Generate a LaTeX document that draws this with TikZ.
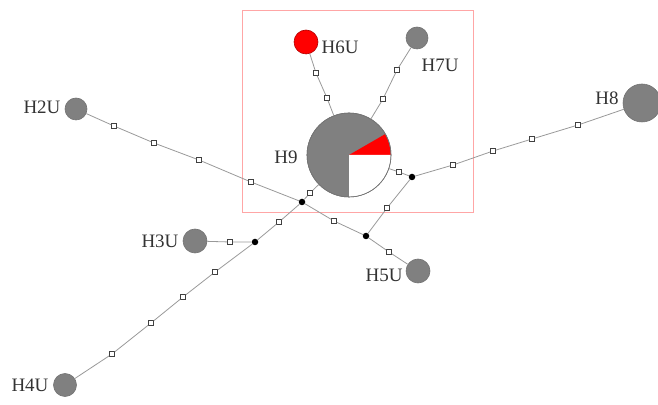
\documentclass[tikz,border=0pt]{standalone}
\usepackage{fontspec}
\setmainfont{Liberation Serif}
\begin{document}
\begin{tikzpicture}[x=1pt,y=1pt,
  hap/.style={circle,draw=black!55,line width=0.6pt,fill=black!50,inner sep=0pt,minimum size=#1},
  redhap/.style={circle,draw=red!70!black,line width=0.6pt,fill=red,inner sep=0pt,minimum size=#1},
  mut/.style={rectangle,draw=black!75,line width=0.6pt,fill=white,inner sep=0pt,minimum size=5pt},
  median/.style={circle,fill=black,inner sep=0pt,minimum size=6.5pt},
  link/.style={draw=black!40,line width=0.8pt},
  lab/.style={font=\fontsize{19}{19}\selectfont,text=black!80,inner sep=0pt}]
\useasboundingbox (0,0) rectangle (658,404);

% highlighted region
\draw[red!35,line width=0.9pt] (242,192) rectangle (473,394);

% haplotypes
\node[hap=84pt] (h9) at (349,249) {};
\node[redhap=24pt] (h6u) at (306,362) {};
\node[hap=22pt] (h7u) at (417,366) {};
\node[hap=22pt] (h2u) at (76,295) {};
\node[hap=24pt] (h3u) at (195,163) {};
\node[hap=23pt] (h4u) at (65,19) {};
\node[hap=24pt] (h5u) at (418,133) {};
\node[hap=38pt] (h8) at (642,301) {};

% pie slices of H9
\fill[red] (h9.center) -- ++(0:41.6pt) arc[start angle=0,end angle=30,radius=41.6pt] -- cycle;
\fill[white] (h9.center) -- ++(-90:41.6pt) arc[start angle=-90,end angle=0,radius=41.6pt] -- cycle;
\draw[black!55,line width=0.6pt] (h9) circle[radius=42pt];

% median vectors
\node[median] (m1) at (302,202) {};
\node[median] (m2) at (366,168) {};
\node[median] (m3) at (255,162) {};
\node[median] (m4) at (412,227) {};

% mutation steps
\node[mut] (a1) at (114,278) {};
\node[mut] (a2) at (154,261) {};
\node[mut] (a3) at (199,244) {};
\node[mut] (a4) at (251,222) {};
\node[mut] (b1) at (310,211) {};
\node[mut] (c1) at (334,183) {};
\node[mut] (d1) at (389,152) {};
\node[mut] (e1) at (279,182) {};
\node[mut] (f1) at (230,162) {};
\node[mut] (g1) at (215,132) {};
\node[mut] (g2) at (183,107) {};
\node[mut] (g3) at (151,81) {};
\node[mut] (g4) at (112,50) {};
\node[mut] (i1) at (387,196) {};
\node[mut] (j1) at (399,232) {};
\node[mut] (k1) at (453,239) {};
\node[mut] (k2) at (493,253) {};
\node[mut] (k3) at (532,265) {};
\node[mut] (k4) at (578,279) {};
\node[mut] (p1) at (327,306) {};
\node[mut] (p2) at (316,331) {};
\node[mut] (q1) at (383,305) {};
\node[mut] (q2) at (397,334) {};

% links
\path[link] (h2u) -- (a1) -- (a2) -- (a3) -- (a4) -- (m1);
\path[link] (m1) -- (b1) -- (h9);
\path[link] (m1) -- (c1) -- (m2);
\path[link] (m2) -- (d1) -- (h5u);
\path[link] (m1) -- (e1) -- (m3);
\path[link] (m3) -- (f1) -- (h3u);
\path[link] (m3) -- (g1) -- (g2) -- (g3) -- (g4) -- (h4u);
\path[link] (m2) -- (i1) -- (m4);
\path[link] (m4) -- (j1) -- (h9);
\path[link] (m4) -- (k1) -- (k2) -- (k3) -- (k4) -- (h8);
\path[link] (h9) -- (p1) -- (p2) -- (h6u);
\path[link] (h9) -- (q1) -- (q2) -- (h7u);

% labels
\node[lab] (l9) at (286,247) {H9};
\node[lab] (l6) at (340,357) {H6U};
\node[lab] (l7) at (440,339) {H7U};
\node[lab] (l2) at (42,297) {H2U};
\node[lab] (l3) at (160,163) {H3U};
\node[lab] (l4) at (30,19) {H4U};
\node[lab] (l5) at (384,129) {H5U};
\node[lab] (l8) at (607,306) {H8};
\end{tikzpicture}
\end{document}
